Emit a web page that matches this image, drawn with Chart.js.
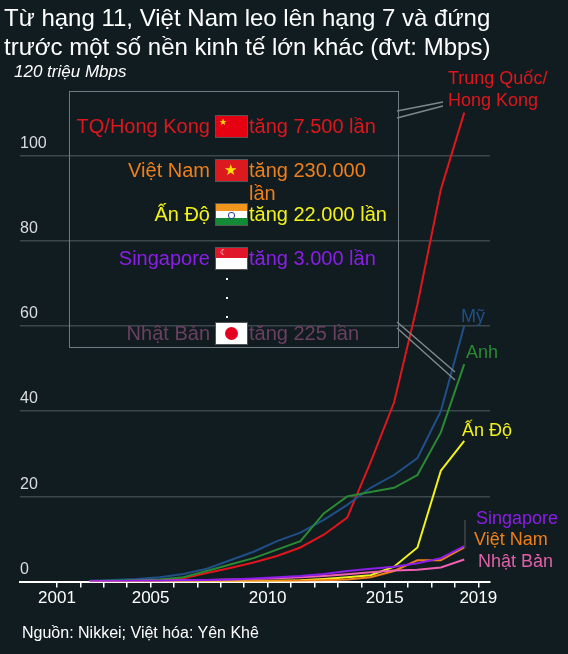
<!DOCTYPE html>
<html>
<head>
<meta charset="utf-8">
<script src="https://cdn.jsdelivr.net/npm/chart.js@4"></script>
<style>
  body { margin: 0; background: #111c21; font-family: "Liberation Sans", Arial, sans-serif; }
  #wrap { position: relative; width: 568px; height: 654px; }
  canvas { position: absolute; left: 0; top: 0; }
  .t { position: absolute; white-space: nowrap; }
  #title { left: 4px; top: 3px; color: #fff; font-size: 24px; line-height: 29px; }
  #unit { left: 14px; top: 62px; color: #fff; font-size: 17px; font-style: italic; }
  #src { left: 22px; top: 624px; color: #fff; font-size: 16px; }
  #box { position: absolute; left: 69px; top: 91px; width: 328px; height: 255px; border: 1px solid #6e7a80; }
  .row { position: absolute; left: 0; width: 328px; height: 24px; font-size: 20px; }
  .row .n { position: absolute; right: 188px; top: 0; }
  .row .f { position: absolute; left: 145px; top: 0; width: 31px; height: 21px; }
  .row .v { position: absolute; left: 179px; top: 0; }
  .lbl { position: absolute; font-size: 18px; white-space: nowrap; }
</style>
</head>
<body>
<div id="wrap">
  <canvas id="c" width="568" height="654"></canvas>
  <div id="title" class="t">Từ hạng 11, Việt Nam leo lên hạng 7 và đứng<br>trước một số nền kinh tế lớn khác (đvt: Mbps)</div>
  <div id="unit" class="t">120 triệu Mbps</div>
  <div id="box"></div>
  <div id="labels"></div>
  <div id="src" class="t">Nguồn: Nikkei; Việt hóa: Yên Khê</div>
</div>
<script>
const years = [2002.4, 2003.4, 2004.4, 2005.4, 2006.4, 2007.4, 2008.4, 2009.4, 2010.4,
  2011.4, 2012.4, 2013.4, 2014.4, 2015.4, 2016.4, 2017.4, 2018.4];
const chinaHK = [0, 0, 0, 0.2, 0.8, 2, 3.2, 4.5, 6, 8, 11, 15, 28, 42, 65, 92, 110];
const usa = [0.2, 0.4, 0.6, 1, 1.8, 3, 5, 7, 9.5, 11.5, 14.5, 18, 22, 25, 29, 40, 60];
const uk = [0.1, 0.2, 0.3, 0.5, 1, 2.5, 4, 5.5, 7.5, 9.5, 16, 20, 21, 22, 25, 35, 51];
const india = [0, 0, 0, 0, 0, 0, 0.1, 0.1, 0.2, 0.3, 0.6, 1, 1.5, 3.5, 8, 26, 33];
const vietnam = [0, 0, 0, 0, 0, 0, 0, 0.1, 0.1, 0.2, 0.3, 0.5, 1, 2.5, 5, 5, 8];
const singapore = [0.1, 0.1, 0.2, 0.2, 0.3, 0.4, 0.5, 0.7, 1, 1.3, 1.8, 2.5, 3, 3.5, 4.3, 5.5, 8.3];
const japan = [0.1, 0.1, 0.2, 0.2, 0.3, 0.4, 0.5, 0.6, 0.8, 1, 1.3, 1.7, 2.2, 2.6, 2.8, 3.3, 5.2];
const yTicks = [0, 20, 40, 60, 80, 100];
const xLabels = [2001, 2005, 2010, 2015, 2019];

const legendRows = [
  { name: "TQ/Hong Kong", value: "tăng 7.500 lần", color: "#e0161c", flag: "cn" },
  { name: "Việt Nam", value: "tăng 230.000 lần", color: "#ef7f1a", flag: "vn" },
  { name: "Ấn Độ", value: "tăng 22.000 lần", color: "#f2f21a", flag: "in" },
  { name: "Singapore", value: "tăng 3.000 lần", color: "#8b1ee8", flag: "sg" },
  { name: "Nhật Bản", value: "tăng 225 lần", color: "#6a4060", flag: "jp" }
];
const legendTops = [23, 67, 111, 155, 230];

const flagCss = {
  cn: "background:#e50012;",
  vn: "background:#da1a1f;",
  in: "background:linear-gradient(#f3961e 0 33%, #fff 33% 66%, #138a36 66%);",
  sg: "background:linear-gradient(#e0162b 0 50%, #fff 50%);",
  jp: "background:#fff;"
};
const flagMark = {
  cn: '<span style="position:absolute;left:3px;top:1px;color:#ffde00;font-size:9px">★</span>',
  vn: '<span style="position:absolute;left:8px;top:1px;color:#ffde00;font-size:15px">★</span>',
  in: '<span style="position:absolute;left:12px;top:8px;width:5px;height:5px;border-radius:3px;border:1px solid #2a3a8c"></span>',
  sg: '<span style="position:absolute;left:4px;top:0;color:#fff;font-size:8px">☾</span>',
  jp: '<span style="position:absolute;left:9px;top:4px;width:13px;height:13px;border-radius:7px;background:#e5001f"></span>'
};

const box = document.getElementById("box");
legendRows.forEach((r, i) => {
  const d = document.createElement("div");
  d.className = "row";
  d.style.top = legendTops[i] + "px";
  d.innerHTML = '<span class="n" style="color:' + r.color + '">' + r.name + '</span>' +
    '<span class="f" style="' + flagCss[r.flag] + 'border:1px solid #555">' + flagMark[r.flag] + '</span>' +
    '<span class="v" style="color:' + r.color + '">' + r.value + '</span>';
  box.appendChild(d);
});
[186, 205, 224].forEach(t => {
  const dot = document.createElement("div");
  dot.className = "t";
  dot.style.cssText = "left:156px;top:" + t + "px;width:2px;height:2px;background:#fff";
  box.appendChild(dot);
});

const endLabels = [
  { text: "Trung Quốc/<br>Hong Kong", color: "#e0161c", x: 448, y: 67 },
  { text: "Mỹ", color: "#1f4f86", x: 461, y: 305 },
  { text: "Anh", color: "#2a8a33", x: 466, y: 341 },
  { text: "Ấn Độ", color: "#f2f21a", x: 462, y: 419 },
  { text: "Singapore", color: "#8b1ee8", x: 476, y: 507 },
  { text: "Việt Nam", color: "#ef7f1a", x: 474, y: 528 },
  { text: "Nhật Bản", color: "#e060a8", x: 478, y: 550 }
];
const labelsDiv = document.getElementById("labels");
endLabels.forEach(l => {
  const d = document.createElement("div");
  d.className = "lbl";
  d.style.cssText = "left:" + l.x + "px;top:" + l.y + "px;color:" + l.color + ";line-height:22px";
  d.innerHTML = l.text;
  labelsDiv.appendChild(d);
});

function pts(vals) { return vals.map((v, i) => ({ x: years[i], y: v })); }
function ds(label, vals, color) {
  return { label: label, data: pts(vals), borderColor: color, borderWidth: 2, pointRadius: 0, tension: 0, fill: false };
}

// leader lines from the legend box to the end labels
const leaders = {
  id: "leaders",
  afterDraw(chart) {
    const c = chart.ctx;
    c.save();
    c.strokeStyle = "#7d878c";
    c.lineWidth = 1.5;
    c.beginPath();
    c.moveTo(397, 111); c.lineTo(443, 102);
    c.moveTo(397, 118); c.lineTo(443, 106);
    c.moveTo(397, 322); c.lineTo(455, 372);
    c.moveTo(397, 328); c.lineTo(455, 380);
    c.stroke();
    c.strokeStyle = "#444";
    c.beginPath();
    c.moveTo(465, 520); c.lineTo(465, 548);
    c.stroke();
    c.restore();
  }
};

new Chart(document.getElementById("c"), {
  type: "line",
  data: {
    datasets: [
      ds("Singapore", singapore, "#8b1ee8"),
      ds("Nhật Bản", japan, "#f060b0"),
      ds("Việt Nam", vietnam, "#ef7f1a"),
      ds("Ấn Độ", india, "#f2f21a"),
      ds("Anh", uk, "#2a8a33"),
      ds("Mỹ", usa, "#1f4f86"),
      ds("TQ/Hong Kong", chinaHK, "#e0161c")
    ]
  },
  options: {
    responsive: false,
    animation: false,
    layout: { padding: { left: 20, right: 78, top: 70, bottom: 44 } },
    plugins: { legend: { display: false }, tooltip: { enabled: false } },
    scales: {
      x: {
        type: "linear",
        min: 1999.42,
        max: 2019.5,
        afterBuildTicks(axis) {
          const t = [];
          for (let y = 2001; y <= 2019; y++) t.push({ value: y });
          axis.ticks = t;
        },
        ticks: {
          autoSkip: false,
          maxRotation: 0,
          color: "#fff",
          font: { size: 17, family: "Liberation Sans" },
          padding: 1,
          callback: v => xLabels.includes(v) ? String(v) : ""
        },
        grid: { drawOnChartArea: false, color: "#fff", tickLength: 6, lineWidth: 1.5 },
        border: { color: "#fff", width: 2 }
      },
      y: {
        min: 0,
        max: 120,
        afterBuildTicks(axis) {
          axis.ticks = yTicks.concat([120]).map(v => ({ value: v }));
        },
        ticks: {
          mirror: true,
          padding: 0,
          labelOffset: -12,
          color: "#d8dcde",
          font: { size: 16, family: "Liberation Sans" },
          callback: v => v === 120 ? "" : String(v)
        },
        grid: {
          color: ctx => ctx.tick && ctx.tick.value === 120 ? "rgba(0,0,0,0)" : "#3c474c",
          lineWidth: 1.5,
          drawTicks: false
        },
        border: { display: false }
      }
    }
  },
  plugins: [leaders]
});
</script>
</body>
</html>
